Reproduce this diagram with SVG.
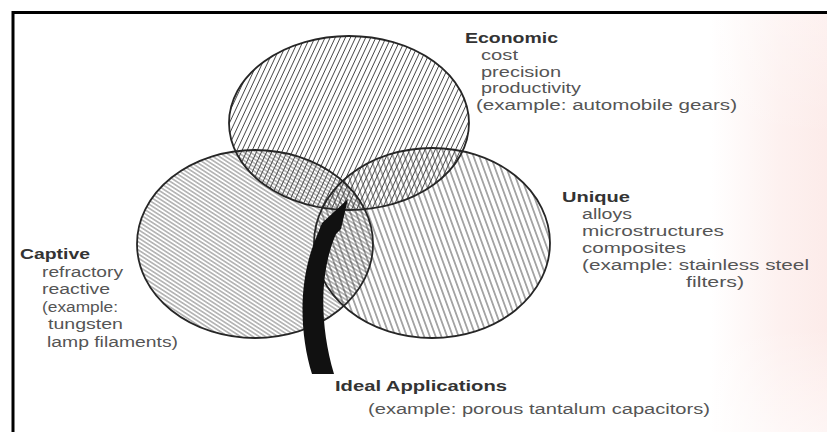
<svg xmlns="http://www.w3.org/2000/svg" width="827" height="432" viewBox="0 0 827 432">
  <defs>
    <!-- hatch fills for the three sets -->
    <pattern id="hatchEconomic" patternUnits="userSpaceOnUse" width="4.6" height="20" patternTransform="rotate(25)">
      <line x1="2.3" y1="0" x2="2.3" y2="20" class="hatch"/>
    </pattern>
    <pattern id="hatchCaptive" patternUnits="userSpaceOnUse" width="20" height="3.4" patternTransform="rotate(33)">
      <line x1="0" y1="1.7" x2="20" y2="1.7" class="hatch thin"/>
    </pattern>
    <pattern id="hatchUnique" patternUnits="userSpaceOnUse" width="5.4" height="20" patternTransform="rotate(-20)">
      <line x1="2.7" y1="0" x2="2.7" y2="20" class="hatch"/>
    </pattern>
    <linearGradient id="edgeTint" x1="0" y1="0" x2="1" y2="0">
      <stop offset="0" stop-color="#fbe3e0" stop-opacity="0"/>
      <stop offset="0.6" stop-color="#fbe3e0" stop-opacity="0.5"/>
      <stop offset="1" stop-color="#fbe3e0" stop-opacity="0.7"/>
    </linearGradient>
    <linearGradient id="edgeFade" x1="0" y1="0" x2="0" y2="1">
      <stop offset="0" stop-color="#fff" stop-opacity="0.3"/>
      <stop offset="0.3" stop-color="#fff" stop-opacity="0"/>
      <stop offset="0.75" stop-color="#fff" stop-opacity="0"/>
      <stop offset="1" stop-color="#fff" stop-opacity="0.5"/>
    </linearGradient>
    <style>
      .hatch { stroke: #3c3c3c; stroke-width: 0.9; }
      .thin { stroke: #555; stroke-width: 0.8; }
      .outline { fill: none; stroke: #262626; stroke-width: 1.8; }
      .title { font-family: "Liberation Sans", Arial, sans-serif; font-size: 14px; font-weight: bold; fill: #333; }
      .item { font-family: "Liberation Sans", Arial, sans-serif; font-size: 14px; fill: #555; }
      .frame { stroke: #000; stroke-width: 3; fill: none; }
    </style>
  </defs>

  <rect width="827" height="432" fill="#fff"/>
  <rect x="710" y="14" width="117" height="418" fill="url(#edgeTint)"/>
  <rect x="710" y="14" width="117" height="418" fill="url(#edgeFade)"/>

  <!-- page frame -->
  <path class="frame" d="M13 432 V12.5 H827"/>

  <!-- hatched set fills -->
  <g id="fills">
    <ellipse cx="349" cy="123" rx="120" ry="87" fill="url(#hatchEconomic)"/>
    <ellipse cx="255" cy="244" rx="118" ry="94" fill="url(#hatchCaptive)"/>
    <ellipse cx="432" cy="243" rx="118" ry="95" fill="url(#hatchUnique)"/>
  </g>

  <g id="economic">
    <ellipse class="outline" cx="349" cy="123" rx="120" ry="87"/>
    <text class="title" x="465" y="43" textLength="93" lengthAdjust="spacingAndGlyphs">Economic</text>
    <text class="item" x="481" y="60" textLength="37" lengthAdjust="spacingAndGlyphs">cost</text>
    <text class="item" x="481" y="77" textLength="80" lengthAdjust="spacingAndGlyphs">precision</text>
    <text class="item" x="481" y="93" textLength="100" lengthAdjust="spacingAndGlyphs">productivity</text>
    <text class="item" x="476" y="110" textLength="261" lengthAdjust="spacingAndGlyphs">(example: automobile gears)</text>
  </g>

  <g id="captive">
    <ellipse class="outline" cx="255" cy="244" rx="118" ry="94"/>
    <text class="title" x="20" y="259" textLength="70" lengthAdjust="spacingAndGlyphs">Captive</text>
    <text class="item" x="42" y="277" textLength="81" lengthAdjust="spacingAndGlyphs">refractory</text>
    <text class="item" x="42" y="294" textLength="68" lengthAdjust="spacingAndGlyphs">reactive</text>
    <text class="item" x="42" y="312" textLength="76" lengthAdjust="spacingAndGlyphs">(example:</text>
    <text class="item" x="48" y="329" textLength="75" lengthAdjust="spacingAndGlyphs">tungsten</text>
    <text class="item" x="47" y="347" textLength="131" lengthAdjust="spacingAndGlyphs">lamp filaments)</text>
  </g>

  <g id="unique">
    <ellipse class="outline" cx="432" cy="243" rx="118" ry="95"/>
    <text class="title" x="562" y="202" textLength="68" lengthAdjust="spacingAndGlyphs">Unique</text>
    <text class="item" x="582" y="219" textLength="50" lengthAdjust="spacingAndGlyphs">alloys</text>
    <text class="item" x="582" y="236" textLength="142" lengthAdjust="spacingAndGlyphs">microstructures</text>
    <text class="item" x="582" y="253" textLength="104" lengthAdjust="spacingAndGlyphs">composites</text>
    <text class="item" x="582" y="270" textLength="227" lengthAdjust="spacingAndGlyphs">(example: stainless steel</text>
    <text class="item" x="686" y="287" textLength="58" lengthAdjust="spacingAndGlyphs">filters)</text>
  </g>

  <g id="ideal">
    <text class="title" x="335" y="391" textLength="172" lengthAdjust="spacingAndGlyphs">Ideal Applications</text>
    <text class="item" x="368" y="414" textLength="342" lengthAdjust="spacingAndGlyphs">(example: porous tantalum capacitors)</text>
  </g>

  <!-- curved pointer into the common region -->
  <g id="connectors">
    <path fill="#111" d="M312 374 C300 335 298 285 314 243 L322 223 L348 199 L341 229 L336 234 C321 268 318 320 334 374 Z"/>
  </g>
</svg>
